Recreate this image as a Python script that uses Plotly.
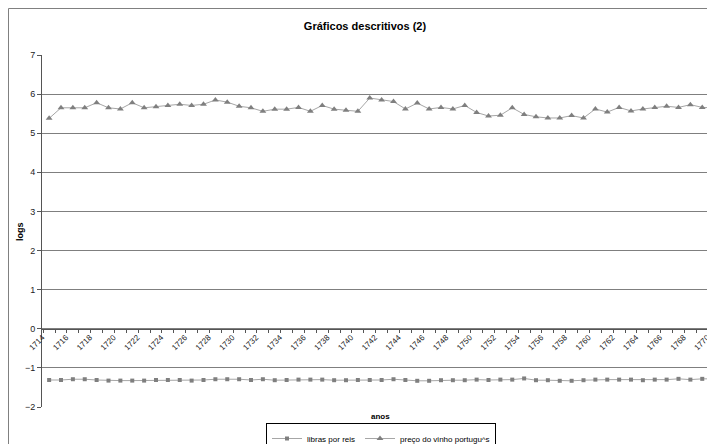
import plotly.graph_objects as go

anos = list(range(1714, 1771))

libras_por_reis = [
    -1.31, -1.31, -1.29, -1.29, -1.31, -1.325, -1.325, -1.325, -1.325, -1.31,
    -1.31, -1.31, -1.325, -1.31, -1.29, -1.29, -1.29, -1.31, -1.29,
    -1.315, -1.31, -1.30, -1.30, -1.30, -1.315, -1.315, -1.31, -1.31, -1.31,
    -1.29, -1.31, -1.33, -1.33, -1.315, -1.315, -1.315, -1.30, -1.31, -1.30,
    -1.30, -1.27, -1.315, -1.315, -1.33, -1.33, -1.315, -1.30, -1.30, -1.30,
    -1.30, -1.315, -1.30, -1.30, -1.28, -1.30, -1.28, -1.28,
]

preco_vinho = [
    5.38, 5.65, 5.65, 5.65, 5.78, 5.65, 5.62, 5.78, 5.65, 5.675,
    5.71, 5.74, 5.71, 5.74, 5.85, 5.795, 5.69, 5.65, 5.56,
    5.615, 5.615, 5.66, 5.56, 5.71, 5.615, 5.59, 5.56, 5.90, 5.85,
    5.81, 5.62, 5.77, 5.62, 5.66, 5.62, 5.71, 5.53, 5.44, 5.46,
    5.65, 5.48, 5.42, 5.39, 5.39, 5.45, 5.39, 5.62, 5.54, 5.66,
    5.57, 5.62, 5.66, 5.69, 5.66, 5.73, 5.66, 5.65,
]

tick_years = [y for y in anos if y % 2 == 0]
tick_labels = [str(y) for y in tick_years]
y_ticks = list(range(-2, 8))

FONT = "Liberation Sans, Arial, sans-serif"

# The page body has an 8px margin; figure coords = page coords - OFF.
OFF = 8
FW, FH = 715 - OFF, 444 - OFF
L, T, B, R = 42 - OFF, 55 - OFF, 407 - OFF, 715 - OFF
W, H = R - L, B - T
YEAR_PX = 11.875
X_MIN = 1713.4
X_MAX = X_MIN + W / YEAR_PX


def px(x):
    return (x - OFF - L) / W


def py(y):
    return (B - (y - OFF)) / H


fig = go.Figure()
fig.add_trace(go.Scatter(
    x=anos, y=libras_por_reis, name="libras por reis", mode="lines+markers",
    line=dict(color="#a6a6a6", width=1),
    marker=dict(symbol="square", size=4, color="#7f7f7f"),
))
fig.add_trace(go.Scatter(
    x=anos, y=preco_vinho, name="preço do vinho portugu^s", mode="lines+markers",
    line=dict(color="#a6a6a6", width=1),
    marker=dict(symbol="triangle-up", size=6, color="#7f7f7f"),
))

fig.update_layout(
    width=FW, height=FH,
    margin=dict(l=L, r=FW - R, t=T, b=FH - B, autoexpand=False),
    paper_bgcolor="white", plot_bgcolor="white",
    font=dict(family=FONT, size=9, color="#000000"),
    title=dict(text="<b>Gráficos descritivos (2)</b>", x=(365 - OFF) / FW, xanchor="center",
               y=1 - (26 - OFF) / FH, yanchor="middle", font=dict(size=11, family=FONT)),
    showlegend=True,
    legend=dict(orientation="h", x=px(381), xanchor="center", y=py(423), yanchor="top",
                bordercolor="#000000", borderwidth=1, bgcolor="white",
                font=dict(size=8, family=FONT), itemwidth=30, tracegroupgap=0),
    xaxis=dict(
        range=[X_MIN, X_MAX], anchor="free", position=2 / 9, automargin=False,
        tickmode="array", tickvals=[y - 0.58 for y in tick_years], ticktext=tick_labels,
        tickangle=-45, ticks="", showgrid=False, zeroline=False,
        showline=True, linecolor="#555555", linewidth=1,
        tickfont=dict(size=8, color="#222222"),
        minor=dict(tickmode="array", tickvals=[y - 0.5 for y in anos],
                   ticks="outside", ticklen=3, tickcolor="#555555", showgrid=False),
    ),
    yaxis=dict(
        range=[-2, 7], tickmode="array", tickvals=y_ticks, automargin=False,
        ticks="outside", ticklen=4, tickcolor="#555555",
        showgrid=True, gridcolor="#7f7f7f", gridwidth=1, zeroline=False,
        showline=True, linecolor="#555555", linewidth=1,
        tickfont=dict(size=9, color="#222222"),
    ),
    annotations=[
        dict(text="<b>anos</b>", x=px(380), y=py(416),
             xref="paper", yref="paper", showarrow=False,
             xanchor="center", yanchor="middle", font=dict(size=8, family=FONT)),
        dict(text="<b>logs</b>", x=px(20), y=py(232), xref="paper", yref="paper",
             showarrow=False, textangle=-90, xanchor="center", yanchor="middle",
             font=dict(size=9, family=FONT)),
    ],
    shapes=[
        dict(type="rect", xref="paper", yref="paper",
             x0=px(8.5), x1=px(740), y0=py(470), y1=py(8.5),
             line=dict(color="#808080", width=1), fillcolor="rgba(0,0,0,0)", layer="below"),
    ],
)

fig.write_html("out.html")
